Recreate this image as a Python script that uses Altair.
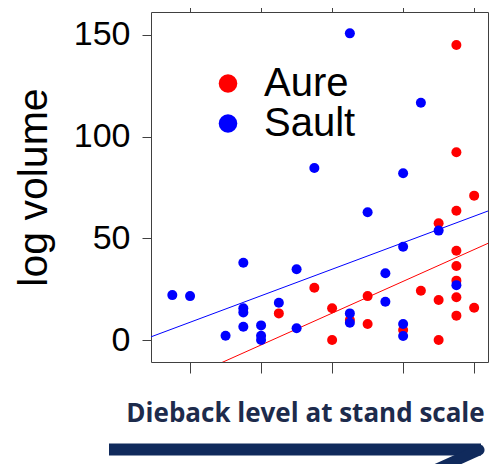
import altair as alt
import pandas as pd

# ---- data ----
sites = ["Aure", "Sault"]
site_colors = ["#ff0000", "#0000ff"]

aure_dieback = [45, 55, 60, 60, 65, 70, 70, 80, 85, 90, 90, 90,
                95, 95, 95, 95, 95, 95, 95, 95, 100, 100]
aure_volume = [13.1, 25.7, 15.6, 0.0, 9.8, 21.6, 7.9, 4.9, 24.2, 57.4, 19.7, 0.0,
               63.6, 43.9, 36.4, 29.2, 21.0, 12.0, 145.1, 92.3, 71.0, 15.9]

sault_dieback = [15, 20, 30, 35, 35, 35, 35, 40, 40, 40, 45, 50, 50, 55,
                 65, 65, 65, 70, 75, 75, 80, 80, 80, 80, 85, 90, 95]
sault_volume = [22.1, 21.6, 2.1, 38.0, 15.6, 13.6, 6.5, 7.2, 2.1, 0.0, 18.3, 34.8, 5.8, 84.6,
                13.1, 8.5, 150.8, 62.8, 32.8, 18.8, 45.9, 7.9, 2.0, 82.0, 116.7, 53.8, 27.0]

# fitted regression lines (per site)
fit_intercept = [-33.7, -4.3]
fit_slope = [0.782, 0.652]

x_ticks = [20, 40, 60, 80, 100]
y_ticks = [0, 50, 100, 150]
x_domain = [9, 103.9]
y_domain = [-10.8, 161.3]

x_label = "Dieback level at stand scale"
y_label = "log volume"

df = pd.DataFrame({
    "dieback": aure_dieback + sault_dieback,
    "volume": aure_volume + sault_volume,
    "site": ["Aure"] * len(aure_dieback) + ["Sault"] * len(sault_dieback),
})
fit_df = pd.DataFrame({
    "site": [s for s in sites for _ in x_domain],
    "dieback": [x for _ in sites for x in x_domain],
    "b0": [b for b in fit_intercept for _ in x_domain],
    "b1": [b for b in fit_slope for _ in x_domain],
})
one = pd.DataFrame({"k": [0]})

FRAME = "#404040"
FONT = "Liberation Sans"

xscale = alt.Scale(domain=x_domain, nice=False, zero=False)
yscale = alt.Scale(domain=y_domain, nice=False, zero=False)

legend = alt.Legend(
    orient="none", legendX=57, legendY=51.5, title=None,
    symbolType="circle", symbolSize=346, symbolStrokeWidth=0, symbolOpacity=1,
    labelFontSize=40, labelFont=FONT, labelColor="black",
    labelOffset=16, rowPadding=0,
)
color = alt.Color("site:N", scale=alt.Scale(domain=sites, range=site_colors), legend=legend)

x_bottom = alt.X(
    "dieback:Q", scale=xscale,
    axis=alt.Axis(values=x_ticks, labels=False, ticks=True, tickSize=11,
                  tickColor=FRAME, domain=False, grid=False, title=None),
)
y_left = alt.Y(
    "volume:Q", scale=yscale,
    axis=alt.Axis(values=y_ticks, labelFontSize=34, labelFont=FONT, labelColor="black",
                  tickSize=9, tickColor=FRAME, labelPadding=12, domain=False, grid=False,
                  title=y_label, titleFontSize=41, titleFont=FONT, titleFontWeight="normal",
                  titleColor="black", titleAngle=270, titleX=-105, titleY=175,
                  titleBaseline="alphabetic", titleAlign="center"),
)

points = alt.Chart(df).mark_circle(size=100, opacity=1).encode(
    x=x_bottom, y=y_left, color=color
)

lines = alt.Chart(fit_df).transform_calculate(
    volume="datum.b0 + datum.b1 * datum.dieback"
).mark_line(strokeWidth=1, clip=True).encode(
    x=x_bottom, y=y_left, color=color, detail="site:N",
)

main = alt.layer(lines, points)

ticks_tr = alt.Chart(df).mark_circle(opacity=0).encode(
    x=alt.X("dieback:Q", scale=xscale,
            axis=alt.Axis(orient="top", values=x_ticks, labels=False, tickSize=10,
                          tickColor=FRAME, domain=False, grid=False, title=None)),
    y=alt.Y("volume:Q", scale=yscale,
            axis=alt.Axis(orient="right", values=y_ticks, labels=False, tickSize=9,
                          tickColor=FRAME, domain=False, grid=False, title=None)),
)

caption = alt.Chart(one).mark_text(
    text=x_label, font="Open Sans", fontWeight="bold", fontSize=26, color="#1d2b4c",
    align="center", baseline="alphabetic",
).encode(x=alt.value(154.5), y=alt.value(409.7))

shaft = alt.Chart(one).mark_rule(strokeWidth=12, color="#102a5c", strokeCap="butt").encode(
    x=alt.value(-42), x2=alt.value(330), y=alt.value(437.5), y2=alt.value(437.5)
)
barb = alt.Chart(one).mark_rule(strokeWidth=11, color="#102a5c", strokeCap="round").encode(
    x=alt.value(328), x2=alt.value(286), y=alt.value(438), y2=alt.value(457)
)

chart = alt.layer(main, ticks_tr, caption, shaft, barb).resolve_scale(
    x="independent", y="independent"
).properties(
    width=337, height=350,
    padding={"left": 143, "top": 4, "right": 1, "bottom": 102},
    autosize=alt.AutoSizeParams(type="none"),
    background="white",
).configure_view(stroke=FRAME, strokeWidth=1)

chart.save("out.html", embed_options={"renderer": "svg", "actions": False})
